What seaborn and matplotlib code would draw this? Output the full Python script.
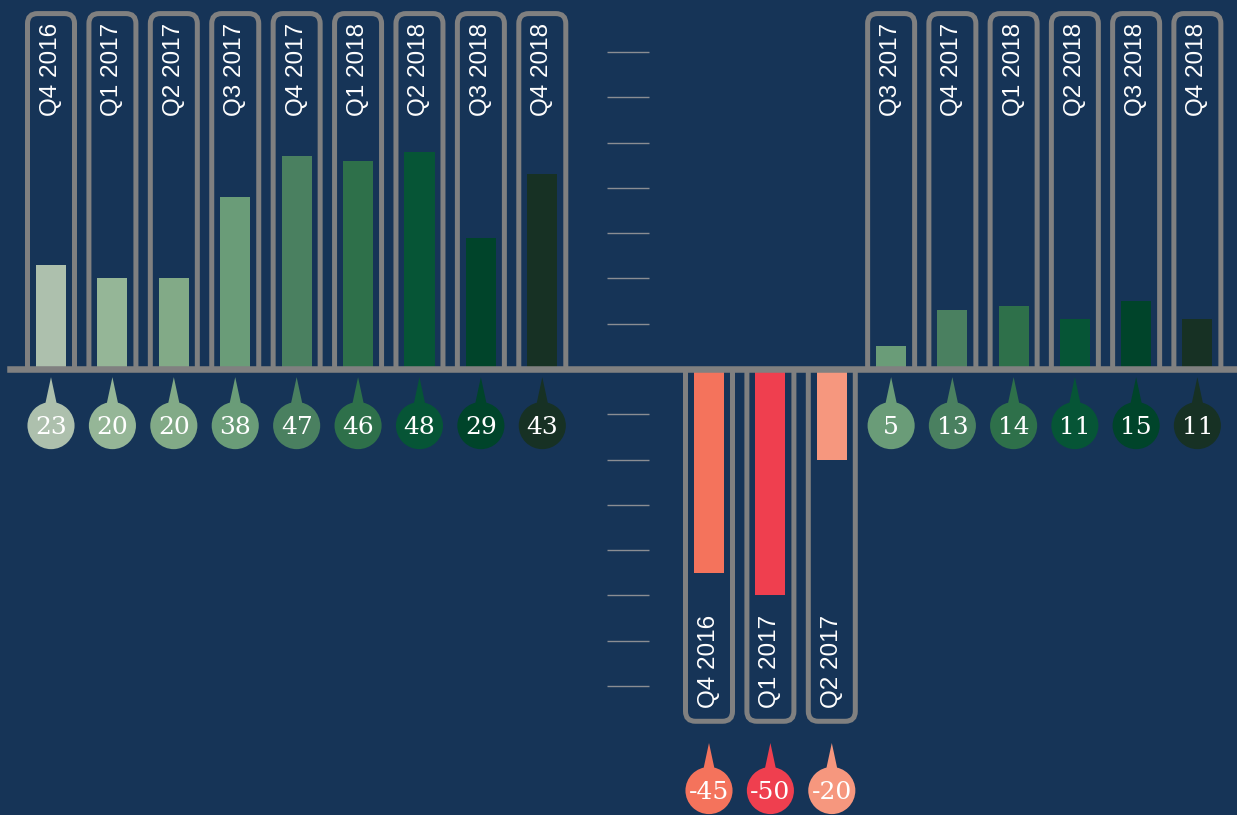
import matplotlib
matplotlib.use('Agg')
import matplotlib.pyplot as plt
from matplotlib.patches import FancyBboxPatch, Rectangle, Polygon
import seaborn as sns
import pandas as pd

# data
left_quarters = ['Q4 2016', 'Q1 2017', 'Q2 2017', 'Q3 2017', 'Q4 2017',
                 'Q1 2018', 'Q2 2018', 'Q3 2018', 'Q4 2018']
left_values = [23, 20, 20, 38, 47, 46, 48, 29, 43]

mid_quarters = ['Q4 2016', 'Q1 2017', 'Q2 2017']
mid_values = [-45, -50, -20]

right_quarters = ['Q3 2017', 'Q4 2017', 'Q1 2018', 'Q2 2018', 'Q3 2018', 'Q4 2018']
right_values = [5, 13, 14, 11, 15, 11]

tick_values = [70, 60, 50, 40, 30, 20, 10, -10, -20, -30, -40, -50, -60, -70]

green_colors = {
    'Q4 2016': '#adc0ad', 'Q1 2017': '#95b697', 'Q2 2017': '#82aa87',
    'Q3 2017': '#6a9c78', 'Q4 2017': '#4a8060', 'Q1 2018': '#2e704a',
    'Q2 2018': '#065536', 'Q3 2018': '#00442a', 'Q4 2018': '#173124',
}
red_colors = {'Q4 2016': '#f4735c', 'Q1 2017': '#ef3f4f', 'Q2 2017': '#f6977e'}

BG = '#163457'
GREY = '#808080'
W, H = 1237, 815
YLIM = (-98.5, 81.5)
PILL_TOP = 78.5
PILL_BOTTOM = -77.8

fig = plt.figure(figsize=(W / 100, H / 100), dpi=100, facecolor=BG)

# pixel spans of the three groups (left edge, right edge)
groups = [
    (left_quarters, left_values, green_colors, 20.3, 573.0),
    (mid_quarters, mid_values, red_colors, 678.3, 862.5),
    (right_quarters, right_values, green_colors, 860.5, 1228.0),
]

px_y = H / (YLIM[1] - YLIM[0])

for quarters, values, colors, x0, x1 in groups:
    n = len(quarters)
    ax = fig.add_axes([x0 / W, 0, (x1 - x0) / W, 1])
    ax.set_facecolor('none')
    df = pd.DataFrame({'quarter': quarters, 'value': values})
    sns.barplot(data=df, x='quarter', y='value', hue='quarter', palette=colors,
                legend=False, width=0.49, saturation=1, ax=ax, zorder=3)
    ax.set_xlim(-0.5, n - 0.5)
    ax.set_ylim(*YLIM)
    ax.axis('off')

    px_x = (x1 - x0) / n
    aspect = px_x / px_y
    r = 10 / px_x
    pill_w = 47 / px_x
    tri_w = 7 / px_x

    for i, (q, v) in enumerate(zip(quarters, values)):
        if v >= 0:
            y0, y1 = -5, PILL_TOP
            clip = Rectangle((-0.5, 0), n, 200, transform=ax.transData)
        else:
            y0, y1 = PILL_BOTTOM, 5
            clip = Rectangle((-0.5, -200), n, 200, transform=ax.transData)
        pill = FancyBboxPatch((i - pill_w / 2, y0), pill_w, y1 - y0,
                              boxstyle=f'round,pad=0,rounding_size={r}',
                              mutation_aspect=aspect, facecolor='none',
                              edgecolor=GREY, linewidth=3.6, zorder=2)
        ax.add_patch(pill)
        pill.set_clip_path(clip)

        if v >= 0:
            ax.text(i, PILL_TOP - 2.1, q, rotation=90, ha='center', va='top',
                    color='white', fontsize=17.5, family='Liberation Sans')
            tip, base, cy = -1.8, -9.0, -12.5
        else:
            ax.text(i, PILL_BOTTOM + 3.0, q, rotation=90, ha='center', va='bottom',
                    color='white', fontsize=17.5, family='Liberation Sans')
            tip, base, cy = PILL_BOTTOM - 4.8, PILL_BOTTOM - 12.0, PILL_BOTTOM - 15.3

        c = colors[q]
        ax.add_patch(Polygon([(i - tri_w, base), (i, tip), (i + tri_w, base)],
                             closed=True, facecolor=c, edgecolor='none',
                             zorder=4, clip_on=False))
        ax.scatter([i], [cy], s=1150, color=c, edgecolors='none', zorder=4,
                   clip_on=False)
        ax.text(i, cy - 0.5, str(v), ha='center', va='center', color='white',
                fontsize=18, family='DejaVu Serif', zorder=5)

# baseline and scale ticks
bg = fig.add_axes([0, 0, 1, 1])
bg.set_facecolor('none')
bg.set_zorder(5)
bg.set_xlim(0, 1)
bg.set_ylim(*YLIM)
bg.axis('off')
bg.axhline(0, xmin=10 / W, xmax=1, color=GREY, linewidth=4.7)
bg.hlines(tick_values, 607 / W, 649 / W, color='#8a8d93', linewidth=1.0)

fig.savefig('out.png', dpi=100, facecolor=BG)
